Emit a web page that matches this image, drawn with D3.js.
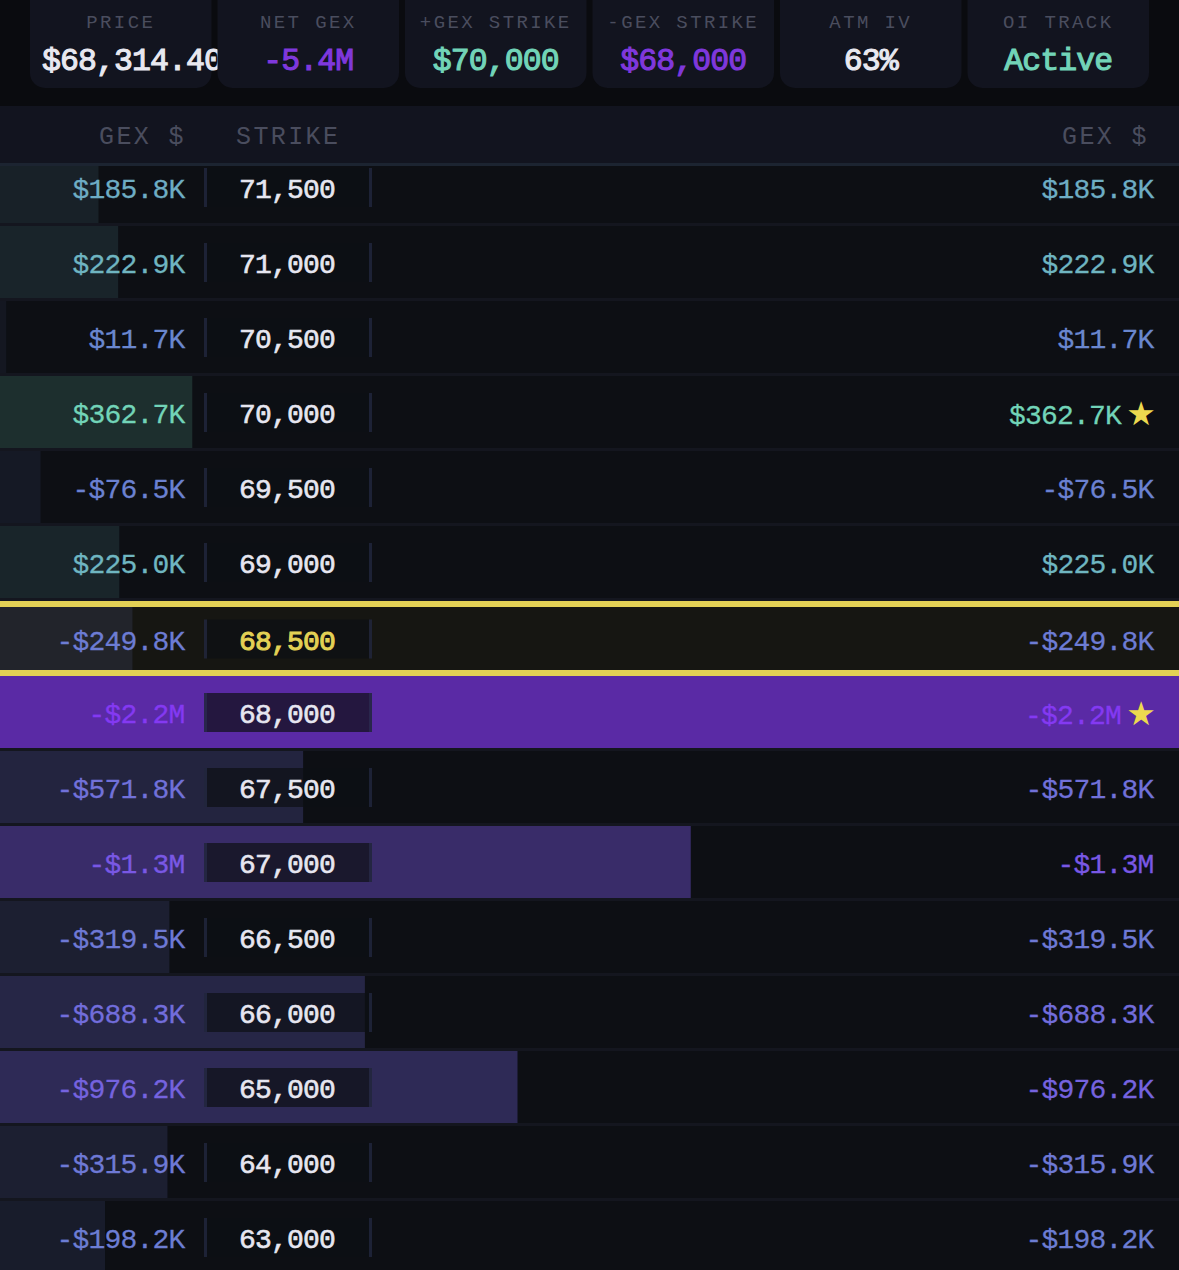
<!DOCTYPE html>
<html>
<head>
<meta charset="utf-8">
<script src="https://cdn.jsdelivr.net/npm/d3@7"></script>
<style>
  html, body { margin: 0; padding: 0; background: #0a0b0f; overflow: hidden; }
  svg { display: block; font-family: "Liberation Mono", monospace; }
</style>
</head>
<body>
<div id="chart"></div>
<script>
// strike ladder, top to bottom
const strikes = [71500, 71000, 70500, 70000, 69500, 69000, 68500, 68000, 67500, 67000, 66500, 66000, 65000, 64000, 63000]
// gex in $K
const gex = [185.8, 222.9, 11.7, 362.7, -76.5, 225.0, -249.8, -2224, -571.8, -1303, -319.5, -688.3, -976.2, -315.9, -198.2]
const spotStrike = 68500
const starStrikes = [70000, 68000]

const cardLabels = ['PRICE', 'NET GEX', '+GEX STRIKE', '-GEX STRIKE', 'ATM IV', 'OI TRACK']
const cardValues = ['$68,314.40', '-5.4M', '$70,000', '$68,000', '63%', 'Active']
const cardColors = ['#e8e8f0', '#7f38dc', '#72d4b8', '#7f38dc', '#e8e8f0', '#72d4b8']

const width = 1179, height = 1270
const YELLOW = '#e3d155'

const svg = d3.select('#chart').append('svg')
  .attr('width', width)
  .attr('height', height)
  .attr('viewBox', [0, 0, width, height])

const x = d3.scaleLinear().domain([0, d3.max(gex, d => Math.abs(d))]).range([0, width])
const y = d3.scaleBand().domain(strikes).range([151, 151 + 75 * strikes.length])
const cardX = d3.scaleBand().domain(cardLabels).range([27, 1152]).paddingInner(0)
const color = d3.scaleLinear().domain([-2224, 0, 362.7]).range(['#8439f2', '#6a84d0', '#72d4b8'])
const barAlpha = d3.scaleLinear().domain([0, 2224]).range([0.07, 0.65])

function fmtGex(v) {
  const a = Math.abs(v)
  const s = a >= 1000 ? (a / 1000).toFixed(1) + 'M' : a.toFixed(1) + 'K'
  return (v < 0 ? '-$' : '$') + s
}

// rows
const rows = d3.range(strikes.length).map(i => ({ strike: strikes[i], v: gex[i] }))

svg.append('rect').attr('y', 106).attr('width', width).attr('height', height - 106).attr('fill', '#14161f')

const row = svg.append('g').selectAll('g')
  .data(rows)
  .join('g')
  .attr('transform', d => `translate(0,${y(d.strike)})`)

row.append('rect')
  .attr('width', width)
  .attr('height', d => d.strike === spotStrike ? 75 : 72)
  .attr('fill', d => d.strike === spotStrike ? '#161612' : '#0d0f14')

row.append('rect')
  .attr('width', d => x(Math.abs(d.v)))
  .attr('height', d => d.strike === spotStrike ? 75 : 72)
  .attr('fill', d => color(d.v))
  .attr('fill-opacity', d => barAlpha(Math.abs(d.v)))

// yellow band around the spot row
const spotRow = row.filter(d => d.strike === spotStrike)
spotRow.append('rect').attr('width', width).attr('height', 6).attr('fill', YELLOW)
spotRow.append('rect').attr('y', 69).attr('width', width).attr('height', 6).attr('fill', YELLOW)

const midY = d => d.strike === spotStrike ? 37.5 : 36

// strike cell
row.append('rect')
  .attr('x', 207).attr('y', d => midY(d) - 19)
  .attr('width', 162).attr('height', 39)
  .attr('fill', '#0d0f14').attr('fill-opacity', 0.7)
row.append('rect')
  .attr('x', 204).attr('y', d => midY(d) - 19)
  .attr('width', 3).attr('height', 39)
  .attr('fill', '#21263c').attr('fill-opacity', 0.85)
row.append('rect')
  .attr('x', 369).attr('y', d => midY(d) - 19)
  .attr('width', 3).attr('height', 39)
  .attr('fill', '#21263c').attr('fill-opacity', 0.85)

// liberation mono runs small next to the original face, so size up and tighten
row.append('text')
  .attr('x', 287).attr('y', d => midY(d) + 11)
  .attr('text-anchor', 'middle')
  .attr('font-size', 28)
  .attr('letter-spacing', -0.8)
  .attr('fill', d => d.strike === spotStrike ? YELLOW : '#e6e6f0')
  .attr('stroke', d => d.strike === spotStrike ? YELLOW : '#e6e6f0')
  .attr('stroke-width', d => d.strike === spotStrike ? 1 : 0.6)
  .text(d => d3.format(',')(d.strike))

row.append('text')
  .attr('x', 184.5).attr('y', d => midY(d) + 11)
  .attr('text-anchor', 'end')
  .attr('font-size', 28)
  .attr('letter-spacing', -0.8)
  .attr('fill', d => color(d.v))
  .attr('stroke', d => color(d.v))
  .attr('stroke-width', 0.3)
  .text(d => fmtGex(d.v))

row.append('text')
  .attr('x', d => starStrikes.includes(d.strike) ? 1121 : 1153.5)
  .attr('y', d => midY(d) + 11 + (starStrikes.includes(d.strike) ? 1 : 0))
  .attr('text-anchor', 'end')
  .attr('font-size', 28)
  .attr('letter-spacing', -0.8)
  .attr('fill', d => color(d.v))
  .attr('stroke', d => color(d.v))
  .attr('stroke-width', 0.3)
  .text(d => fmtGex(d.v))

row.filter(d => starStrikes.includes(d.strike)).append('text')
  .attr('x', 1141).attr('y', 49)
  .attr('text-anchor', 'middle')
  .attr('font-family', 'DejaVu Sans')
  .attr('font-size', 33)
  .attr('fill', '#ecd94f')
  .text('★')

// table header sits on top of the scrolled rows
svg.append('rect').attr('y', 106).attr('width', width).attr('height', 57).attr('fill', '#12141f')
svg.append('rect').attr('y', 163).attr('width', width).attr('height', 3).attr('fill', '#1c2431')

const headers = [['GEX $', 99], ['STRIKE', 236], ['GEX $', 1062]]
svg.append('g').selectAll('text')
  .data(headers)
  .join('text')
  .attr('x', d => d[1]).attr('y', 144)
  .attr('font-size', 25)
  .attr('letter-spacing', 2.4)
  .attr('fill', '#4a4d5e')
  .text(d => d[0])

// stat cards
const card = svg.append('g').selectAll('g')
  .data(cardLabels)
  .join('g')
  .attr('transform', d => `translate(${cardX(d)},0)`)

card.append('rect')
  .attr('x', 3).attr('y', -30)
  .attr('width', cardX.bandwidth() - 6).attr('height', 118)
  .attr('rx', 15)
  .attr('fill', '#12141f')

card.append('text')
  .attr('x', cardX.bandwidth() / 2).attr('y', 28)
  .attr('text-anchor', 'middle')
  .attr('font-size', 19)
  .attr('letter-spacing', 2.4)
  .attr('fill', '#4a4d5e')
  .text(d => d)

card.append('text')
  .attr('x', (d, i) => i === 0 ? 15 : cardX.bandwidth() / 2)
  .attr('y', 70)
  .attr('text-anchor', (d, i) => i === 0 ? 'start' : 'middle')
  .attr('font-size', 31.5)
  .attr('letter-spacing', -0.9)
  .attr('fill', (d, i) => cardColors[i])
  .attr('stroke', (d, i) => cardColors[i])
  .attr('stroke-width', 1.1)
  .text((d, i) => cardValues[i])
</script>
</body>
</html>
